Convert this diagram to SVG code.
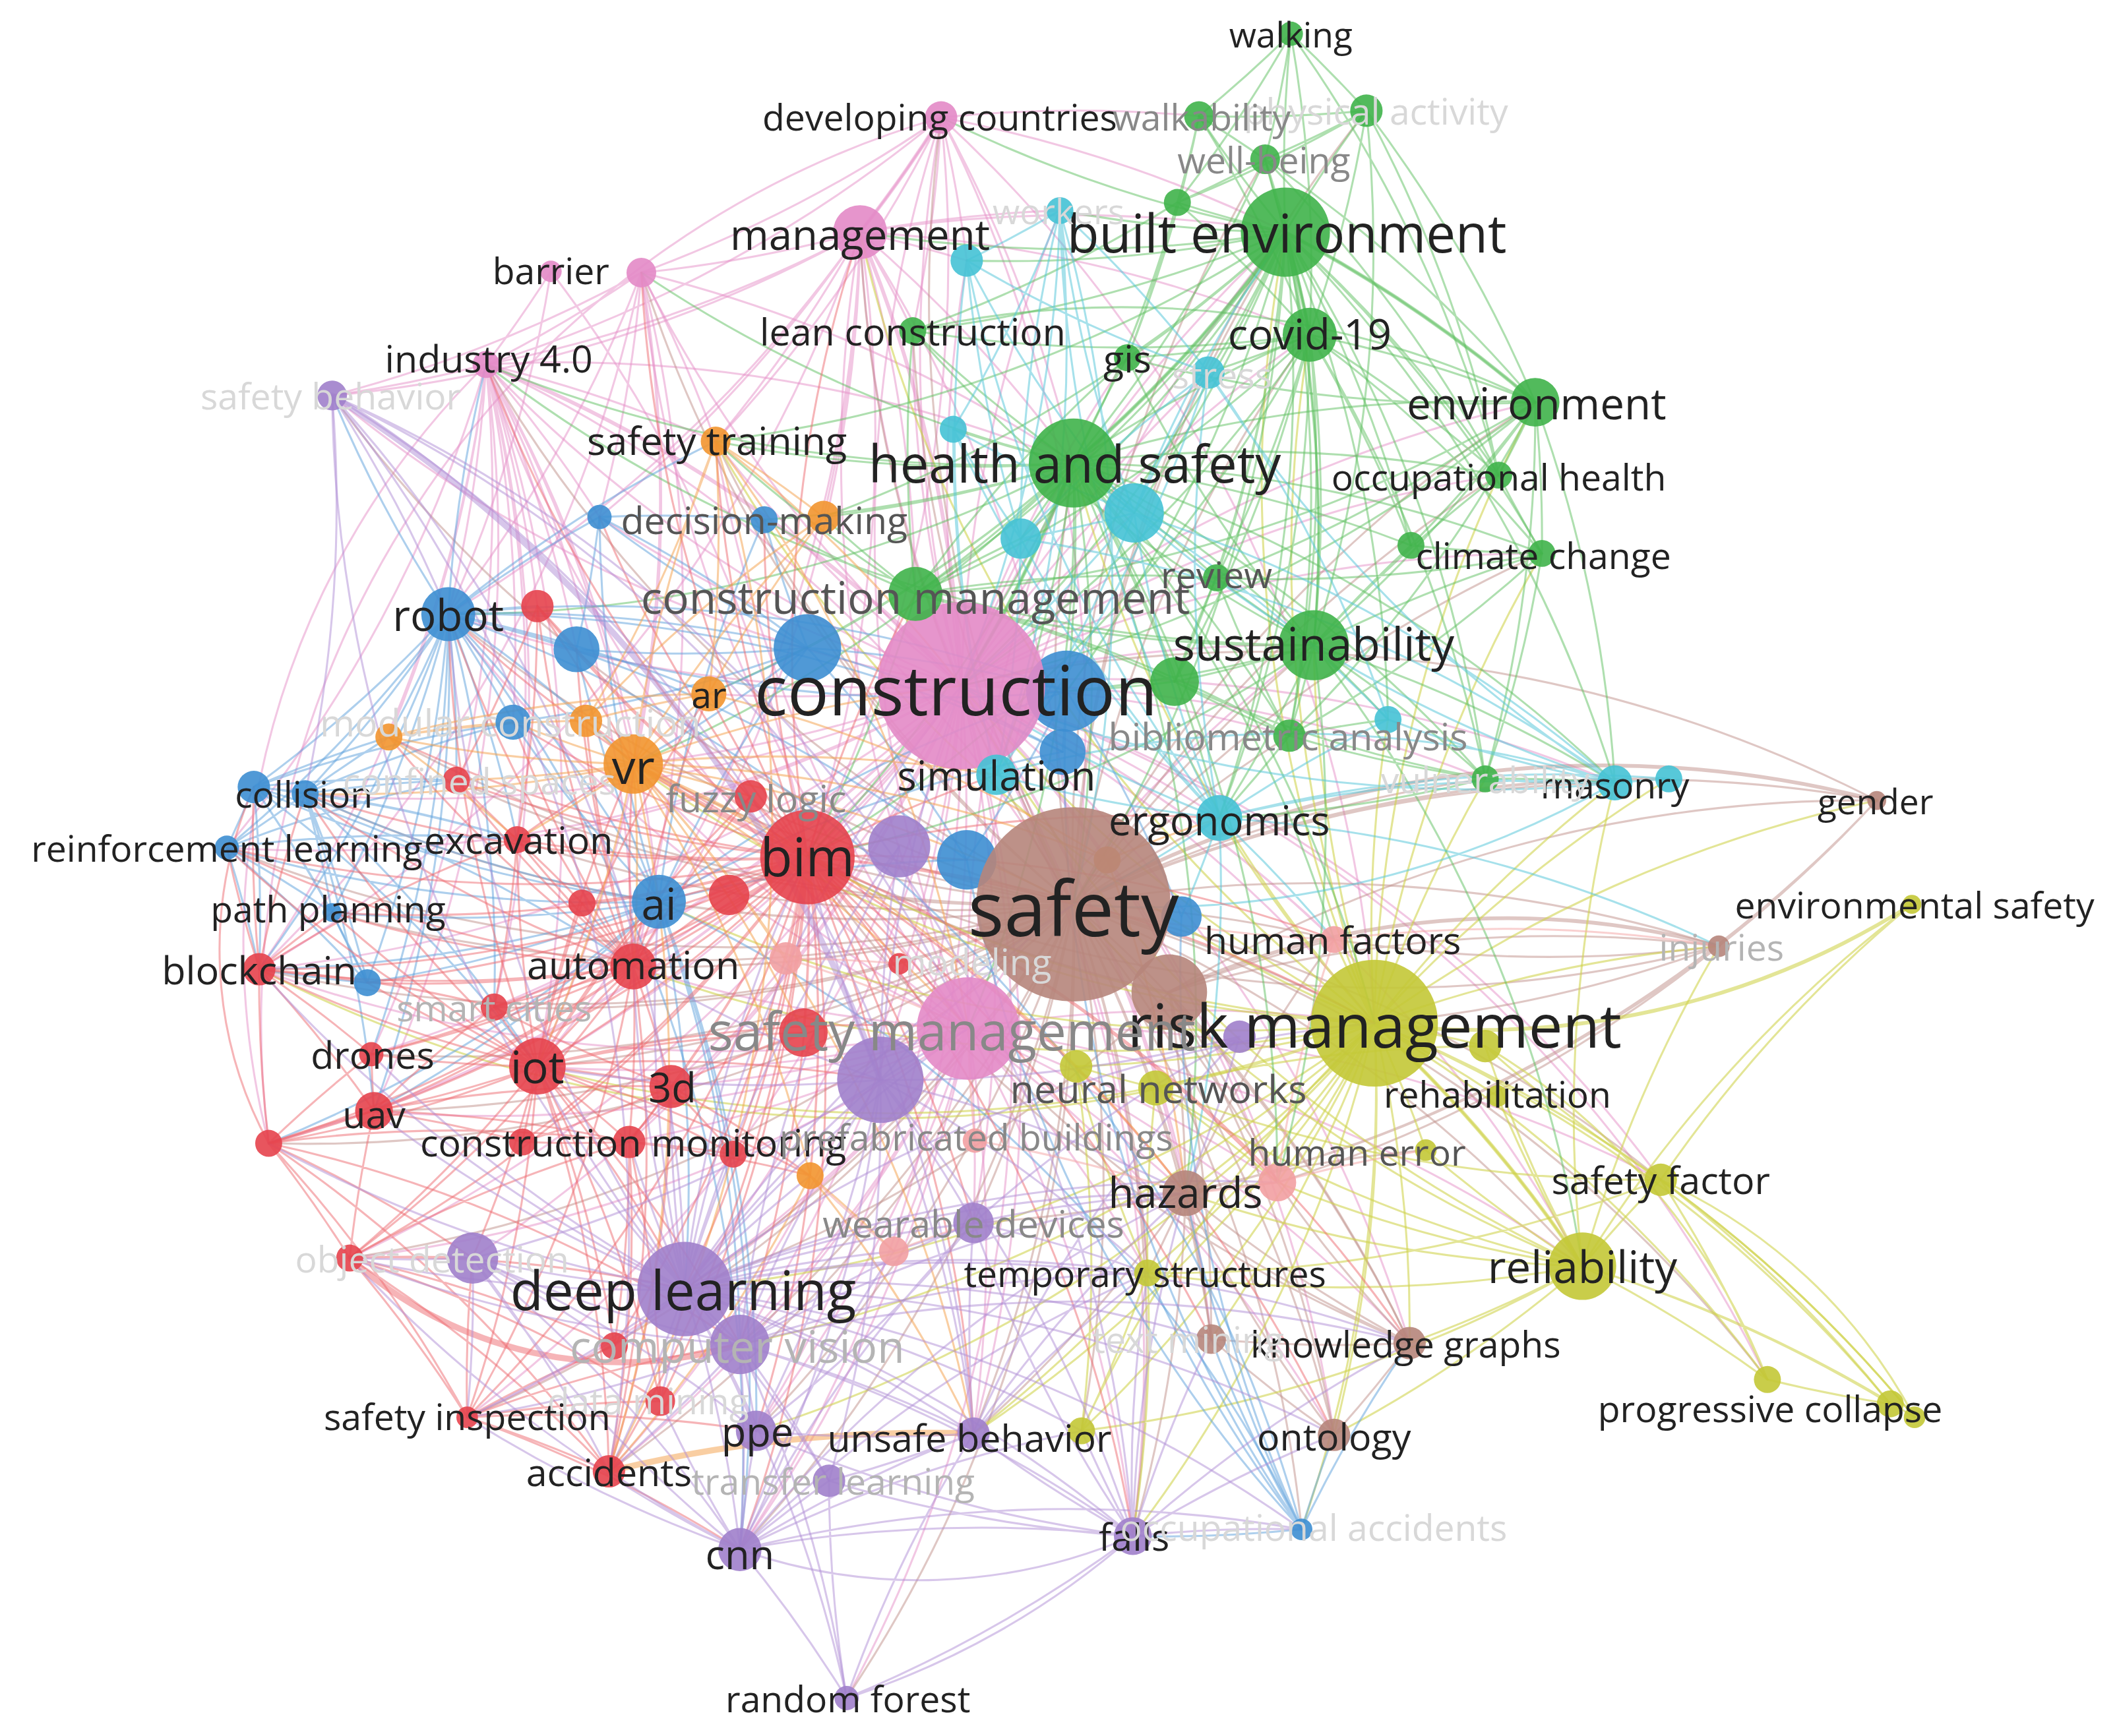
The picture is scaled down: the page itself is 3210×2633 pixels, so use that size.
<svg xmlns="http://www.w3.org/2000/svg" width="3210" height="2633" viewBox="0 0 3210 2633">
<style>
#connectors path{fill:none;stroke-width:1.5;stroke-linecap:round}
.ep{stroke:#e58fc8;stroke-opacity:.5}
.en{stroke:#c0908a;stroke-opacity:.5}
.ey{stroke:#cfd24a;stroke-opacity:.58}
.eg{stroke:#5dbf5f;stroke-opacity:.5}
.ec{stroke:#55c6d8;stroke-opacity:.52}
.eb{stroke:#5b9fdc;stroke-opacity:.5}
.er{stroke:#ee6a70;stroke-opacity:.5}
.eo{stroke:#f4a24c;stroke-opacity:.52}
.eu{stroke:#b08ed6;stroke-opacity:.5}
.ea{stroke:#f4a9a9;stroke-opacity:.55}
#connectors .k{stroke-width:4.5}
#connectors .m{stroke-width:2.8}
circle{fill-opacity:.9}
.pk{fill:#e389c6}.rd{fill:#e5434c}.gn{fill:#3fb24a}.bl{fill:#3d8ed2}.cy{fill:#45c2d5}
.or{fill:#f2952f}.pu{fill:#a07fcb}.ye{fill:#c3c836}.br{fill:#b6857b}.sa{fill:#f2a0a2}
text{font-family:"Open Sans","Noto Sans","DejaVu Sans",sans-serif;text-anchor:middle;dominant-baseline:central;fill:#222}
text.f1{fill:#555}text.f2{fill:#888}text.f3{fill:#b4b4b4}text.f4{fill:#d8d8d8}
</style>
<rect width="3210" height="2633" fill="#fff"/>
<g transform="scale(2.0473)">
<g id="connectors">
<path class="ep" d="M712 508A999 999 0 0 1 637 172M712 508A999 999 0 0 1 697 87M712 508A999 999 0 0 1 475 202M712 508A999 999 0 0 1 360 270M712 508A999 999 0 0 1 246 293M712 508A999 999 0 0 1 530 327M712 508A999 999 0 0 1 676 245M712 508A999 999 0 0 1 952 172M712 508A999 999 0 0 1 795 343M712 508A999 999 0 0 1 598 635M712 508A999 999 0 0 1 507 955M712 508A999 999 0 0 1 1018 758M712 508A999 999 0 0 1 795 670M712 508A999 999 0 0 1 973 478M712 508A999 999 0 0 1 1172 938M712 508A999 999 0 0 1 548 996M712 508A999 999 0 0 1 398 790M712 508A999 999 0 0 1 469 716M712 508A999 999 0 0 1 332 455M712 508A999 999 0 0 1 469 566M712 508A999 999 0 0 1 525 514M712 508A999 999 0 0 1 488 668M712 508A999 999 0 0 1 192 718M712 508A999 999 0 0 1 275 781M712 508A999 999 0 0 1 277 823M712 508A999 999 0 0 1 466 846M712 508A999 999 0 0 1 878 884M712 508A999 999 0 0 1 839 1138M712 508A999 999 0 0 1 548 1148M712 508A999 999 0 0 1 560 1060M712 508A999 999 0 0 1 451 1090M712 508A999 999 0 0 1 346 1050M712 508A999 999 0 0 1 1044 995M712 508A999 999 0 0 1 988 1063M712 508A999 999 0 0 1 850 943M712 508A999 999 0 0 1 1230 874M712 508A999 999 0 0 1 903 606M712 508A999 999 0 0 1 1196 580M712 508A999 999 0 0 1 1100 577M712 508A999 999 0 0 1 955 545M712 508A999 999 0 0 1 970 248M712 508A999 999 0 0 1 1137 298M712 508A999 999 0 0 1 1110 352M712 508A999 999 0 0 1 1142 410M712 508A999 999 0 0 1 901 428M712 508A999 999 0 0 1 835 265M712 508A999 999 0 0 1 895 276M712 508A999 999 0 0 1 785 156M712 508A999 999 0 0 1 716 193M712 508A999 999 0 0 1 444 383M712 508A999 999 0 0 1 226 588M712 508A999 999 0 0 1 168 628M712 508A999 999 0 0 1 383 622M712 508A999 999 0 0 1 259 932M712 508A999 999 0 0 1 199 847M712 508A999 999 0 0 1 897 992M712 508A999 999 0 0 1 721 906M712 508A999 999 0 0 1 721 1062M712 508A999 999 0 0 1 497 805M712 508A999 999 0 0 1 366 746M712 508A999 999 0 0 1 946 876M712 508A999 999 0 0 1 988 696M712 508A999 999 0 0 1 1309 1022M712 508A999 999 0 0 1 840 380M712 508A999 999 0 0 1 350 932M712 508A999 999 0 0 1 627 1258"/>
<path class="ep" d="M717 762A999 999 0 0 1 398 790M717 762A999 999 0 0 1 469 716M717 762A999 999 0 0 1 192 718M717 762A999 999 0 0 1 530 327M717 762A999 999 0 0 1 360 270M717 762A999 999 0 0 1 475 202M717 762A999 999 0 0 1 637 172M717 762A999 999 0 0 1 697 87M717 762A999 999 0 0 1 795 343M717 762A999 999 0 0 1 1018 758M717 762A999 999 0 0 1 878 884M717 762A999 999 0 0 1 946 876M717 762A999 999 0 0 1 1044 995M717 762A999 999 0 0 1 988 1063M717 762A999 999 0 0 1 839 1138M717 762A999 999 0 0 1 548 1148M717 762A999 999 0 0 1 560 1060M717 762A999 999 0 0 1 721 1062M717 762A999 999 0 0 1 850 943M717 762A999 999 0 0 1 721 906M717 762A999 999 0 0 1 662 927M717 762A999 999 0 0 1 451 1090M717 762A999 999 0 0 1 346 1050M717 762A999 999 0 0 1 497 805M717 762A999 999 0 0 1 466 846M717 762A999 999 0 0 1 277 823M717 762A999 999 0 0 1 1172 938M717 762A999 999 0 0 1 1230 874M717 762A999 999 0 0 1 973 478M717 762A999 999 0 0 1 952 172M717 762A999 999 0 0 1 332 455M717 762A999 999 0 0 1 469 566M717 762A999 999 0 0 1 507 955M717 762A999 999 0 0 1 548 996M717 762A999 999 0 0 1 259 932"/>
<path class="ep" d="M637 172A999 999 0 0 1 475 202M637 172A999 999 0 0 1 360 270M637 172A999 999 0 0 1 246 293M637 172A999 999 0 0 1 530 327M637 172A999 999 0 0 1 676 245M637 172A999 999 0 0 1 716 193M637 172A999 999 0 0 1 785 156M637 172A999 999 0 0 1 444 383M637 172A999 999 0 0 1 610 383M637 172A999 999 0 0 1 678 440M637 172A999 999 0 0 1 332 455M637 172A999 999 0 0 1 192 718M637 172A999 999 0 0 1 970 248M637 172A999 999 0 0 1 952 172M637 172A999 999 0 0 1 795 343M637 172A999 999 0 0 1 795 670M637 172A999 999 0 0 1 598 635M637 172A999 999 0 0 1 469 716M637 172A999 999 0 0 1 398 790"/>
<path class="ep" d="M697 87A999 999 0 0 1 637 172M697 87A999 999 0 0 1 475 202M697 87A999 999 0 0 1 360 270M697 87A999 999 0 0 1 888 86M697 87A999 999 0 0 1 716 193M697 87A999 999 0 0 1 795 343M697 87A999 999 0 0 1 952 172M697 87A999 999 0 0 1 676 245M697 87A999 999 0 0 1 530 327M697 87A999 999 0 0 1 795 670M697 87A999 999 0 0 1 598 635M697 87A999 999 0 0 1 1018 758M697 87A700 700 0 0 0 199 847M475 202A999 999 0 0 1 360 270M475 202A999 999 0 0 1 530 327M475 202A999 999 0 0 1 444 383M475 202A999 999 0 0 1 332 455M475 202A999 999 0 0 1 192 718M475 202A999 999 0 0 1 398 790M475 202A999 999 0 0 1 469 716M475 202A999 999 0 0 1 469 566M475 202A999 999 0 0 1 246 293M475 202A999 999 0 0 1 795 343M408 201A999 999 0 0 1 360 270M408 201A999 999 0 0 1 332 455M408 201A999 999 0 0 1 598 635"/>
<path class="ep" d="M360 270A999 999 0 0 1 246 293M360 270A999 999 0 0 1 530 327M360 270A999 999 0 0 1 444 383M360 270A999 999 0 0 1 332 455M360 270A999 999 0 0 1 427 481M360 270A999 999 0 0 1 398 449M360 270A999 999 0 0 1 192 718M360 270A999 999 0 0 1 398 790M360 270A999 999 0 0 1 469 716M360 270A999 999 0 0 1 469 566M360 270A999 999 0 0 1 288 546M360 270A999 999 0 0 1 380 535M360 270A999 999 0 0 1 383 622M360 270A999 999 0 0 1 168 628M360 270A999 999 0 0 1 275 781M360 270A999 999 0 0 1 277 823M360 270A999 999 0 0 1 366 746M360 270A999 999 0 0 1 488 668M360 270A999 999 0 0 1 795 343M360 270A999 999 0 0 1 795 670M360 270A600 600 0 0 0 199 847"/>
<path class="ep m" d="M360 270A999 999 0 0 1 712 508M697 87A999 999 0 0 1 637 172M637 172A999 999 0 0 1 712 508"/>
<path class="en" d="M795 670A999 999 0 0 1 637 172M795 670A999 999 0 0 1 697 87M795 670A999 999 0 0 1 795 343M795 670A999 999 0 0 1 952 172M795 670A999 999 0 0 1 970 248M795 670A999 999 0 0 1 1137 298M795 670A999 999 0 0 1 973 478M795 670A999 999 0 0 1 598 635M795 670A999 999 0 0 1 507 955M795 670A999 999 0 0 1 1018 758M795 670A999 999 0 0 1 1172 938M795 670A999 999 0 0 1 1230 874M795 670A999 999 0 0 1 1390 593M795 670A999 999 0 0 1 1273 701M795 670A999 999 0 0 1 988 696M795 670A999 999 0 0 1 946 876M795 670A999 999 0 0 1 878 884M795 670A999 999 0 0 1 1044 995M795 670A999 999 0 0 1 988 1063M795 670A999 999 0 0 1 897 992M795 670A999 999 0 0 1 839 1138M795 670A999 999 0 0 1 548 1148M795 670A999 999 0 0 1 560 1060M795 670A999 999 0 0 1 721 1062M795 670A999 999 0 0 1 451 1090M795 670A999 999 0 0 1 398 790M795 670A999 999 0 0 1 469 716M795 670A999 999 0 0 1 332 455M795 670A999 999 0 0 1 469 566M795 670A999 999 0 0 1 488 668M795 670A999 999 0 0 1 192 718M795 670A999 999 0 0 1 277 823M795 670A999 999 0 0 1 275 781M795 670A999 999 0 0 1 226 588M795 670A999 999 0 0 1 168 628M795 670A999 999 0 0 1 246 676M795 670A999 999 0 0 1 1196 580M795 670A999 999 0 0 1 903 606M795 670A999 999 0 0 1 1100 577M795 670A999 999 0 0 1 955 545M795 670A999 999 0 0 1 1110 352M795 670A999 999 0 0 1 1142 410M795 670A999 999 0 0 1 530 327M795 670A999 999 0 0 1 246 293M795 670A999 999 0 0 1 360 270M795 670A999 999 0 0 1 475 202M795 670A999 999 0 0 1 676 245M795 670A999 999 0 0 1 721 906M795 670A999 999 0 0 1 548 996M795 670A999 999 0 0 1 1309 1022M795 670A999 999 0 0 1 964 1133M795 670A999 999 0 0 1 627 1258M795 670A999 999 0 0 1 346 1050M795 670A999 999 0 0 1 259 932M795 670A999 999 0 0 1 199 847M795 670A999 999 0 0 1 850 943M795 670A999 999 0 0 1 801 1060M795 670A999 999 0 0 1 366 746M795 670A999 999 0 0 1 383 622M795 670A999 999 0 0 1 338 578M795 670A999 999 0 0 1 288 546M795 670A999 999 0 0 1 1012 82M795 670A999 999 0 0 1 937 118M795 670A999 999 0 0 1 1236 577"/>
<path class="en" d="M866 735A999 999 0 0 1 1273 701M866 735A999 999 0 0 1 1390 593M866 735A999 999 0 0 1 878 884M866 735A999 999 0 0 1 1044 995M866 735A999 999 0 0 1 946 876M866 735A999 999 0 0 1 988 696M866 735A999 999 0 0 1 988 1063M866 735A999 999 0 0 1 897 992M866 735A999 999 0 0 1 507 955M866 735A999 999 0 0 1 598 635M1390 593A999 999 0 0 0 712 508M1390 593A999 999 0 0 1 878 884M1390 593A999 999 0 0 1 1273 701M1273 701A999 999 0 0 1 1018 758M1273 701A999 999 0 0 1 988 696M1273 701A999 999 0 0 1 878 884M1273 701A999 999 0 0 1 946 876M1273 701A999 999 0 0 1 598 635M1044 995A999 999 0 0 1 988 1063M1044 995A999 999 0 0 1 897 992M1044 995A999 999 0 0 1 878 884M1044 995A999 999 0 0 1 946 876M1044 995A999 999 0 0 1 717 762M1044 995A999 999 0 0 1 598 635M988 1063A999 999 0 0 1 897 992M988 1063A999 999 0 0 1 878 884M878 884A999 999 0 0 1 946 876M878 884A999 999 0 0 1 850 943M878 884A999 999 0 0 1 897 992M878 884A999 999 0 0 1 1056 852M878 884A999 999 0 0 1 988 696M878 884A999 999 0 0 1 721 1062M878 884A999 999 0 0 1 839 1138M878 884A999 999 0 0 1 721 906"/>
<path class="en m" d="M1273 701A600 600 0 0 0 866 735M1390 593A800 800 0 0 0 795 670"/>
<path class="ey" d="M1018 758A999 999 0 0 1 1172 938M1018 758A999 999 0 0 1 1230 874M1018 758A999 999 0 0 1 1309 1022M1018 758A999 999 0 0 1 1400 1040M1018 758A999 999 0 0 1 1418 1050M1018 758A999 999 0 0 1 850 943M1018 758A999 999 0 0 1 801 1060M1018 758A999 999 0 0 1 856 806M1018 758A999 999 0 0 1 1100 775M1018 758A999 999 0 0 1 797 790M1018 758A999 999 0 0 1 946 876M1018 758A999 999 0 0 1 878 884M1018 758A999 999 0 0 1 1044 995M1018 758A999 999 0 0 1 988 1063M1018 758A999 999 0 0 1 1196 580M1018 758A999 999 0 0 1 1273 701M1018 758A999 999 0 0 1 1390 593M1018 758A999 999 0 0 1 973 478M1018 758A999 999 0 0 1 1137 298M1018 758A999 999 0 0 1 1142 410M1018 758A999 999 0 0 1 1110 352M1018 758A999 999 0 0 1 970 248M1018 758A999 999 0 0 1 952 172M1018 758A999 999 0 0 1 795 343M1018 758A999 999 0 0 1 598 635M1018 758A999 999 0 0 1 712 508M1018 758A999 999 0 0 1 507 955M1018 758A999 999 0 0 1 398 790M1018 758A999 999 0 0 1 839 1138M1018 758A999 999 0 0 1 721 1062M1018 758A999 999 0 0 1 897 992M1018 758A999 999 0 0 1 988 696M1018 758A999 999 0 0 1 903 606M1018 758A999 999 0 0 1 1100 577M1018 758A999 999 0 0 1 964 1133M1018 758A999 999 0 0 1 637 172M1018 758A999 999 0 0 1 469 716M1018 758A999 999 0 0 1 548 996M1018 758A999 999 0 0 1 560 1060M1018 758A999 999 0 0 1 192 718M1018 758A999 999 0 0 1 488 668M1018 758A999 999 0 0 1 469 566M1018 758A999 999 0 0 1 530 327M1018 758A999 999 0 0 1 1056 852M1018 758A999 999 0 0 1 1236 577M1018 758A999 999 0 0 1 1028 533M1018 758A999 999 0 0 1 1109 812"/>
<path class="ey" d="M1172 938A999 999 0 0 1 1230 874M1172 938A999 999 0 0 1 1309 1022M1172 938A999 999 0 0 1 1400 1040M1172 938A999 999 0 0 1 1418 1050M1172 938A999 999 0 0 1 1416 670M1172 938A999 999 0 0 1 1100 775M1172 938A999 999 0 0 1 1056 852M1172 938A999 999 0 0 1 946 876M1172 938A999 999 0 0 1 1044 995M1172 938A999 999 0 0 1 850 943M1172 938A999 999 0 0 1 856 806M1172 938A999 999 0 0 1 801 1060M1172 938A999 999 0 0 1 1196 580M1172 938A999 999 0 0 1 1273 701M1172 938A999 999 0 0 1 878 884M1172 938A999 999 0 0 1 988 1063M1172 938A999 999 0 0 1 795 670M1172 938A999 999 0 0 1 712 508M1172 938A999 999 0 0 1 1109 812M1230 874A999 999 0 0 1 1309 1022M1230 874A999 999 0 0 1 1400 1040M1230 874A999 999 0 0 1 1418 1050M1230 874A999 999 0 0 1 1416 670M1230 874A999 999 0 0 1 1100 775M1230 874A999 999 0 0 1 850 943M1230 874A999 999 0 0 1 856 806M1400 1040A999 999 0 0 1 1309 1022M1418 1050A400 400 0 0 0 1230 874M1309 1022A500 500 0 0 0 1100 775M850 943A999 999 0 0 1 801 1060M850 943A999 999 0 0 1 856 806M850 943A999 999 0 0 1 797 790M850 943A999 999 0 0 1 721 1062M850 943A999 999 0 0 1 839 1138M856 806A999 999 0 0 1 797 790M856 806A999 999 0 0 1 1100 775M856 806A999 999 0 0 1 946 876M797 790A999 999 0 0 1 801 1060M801 1060A999 999 0 0 1 1018 758"/>
<path class="ey m" d="M1018 758A600 600 0 0 0 1416 670M1018 758A999 999 0 0 1 1172 938"/>
<path class="eg" d="M952 172A999 999 0 0 1 956 25M952 172A999 999 0 0 1 888 86M952 172A999 999 0 0 1 1012 82M952 172A999 999 0 0 1 937 118M952 172A999 999 0 0 1 872 150M952 172A999 999 0 0 1 970 248M952 172A999 999 0 0 1 1137 298M952 172A999 999 0 0 1 1110 352M952 172A999 999 0 0 1 1142 410M952 172A999 999 0 0 1 1045 404M952 172A999 999 0 0 1 901 428M952 172A999 999 0 0 1 973 478M952 172A999 999 0 0 1 795 343M952 172A999 999 0 0 1 835 265M952 172A999 999 0 0 1 676 245M952 172A999 999 0 0 1 895 276M952 172A999 999 0 0 1 785 156M952 172A999 999 0 0 1 716 193M952 172A999 999 0 0 1 637 172M952 172A999 999 0 0 1 697 87M952 172A999 999 0 0 1 955 545M952 172A999 999 0 0 1 870 505M952 172A999 999 0 0 1 1100 577M952 172A999 999 0 0 1 678 440M952 172A999 999 0 0 1 840 380M952 172A999 999 0 0 1 756 399M952 172A999 999 0 0 1 1196 580M952 172A999 999 0 0 1 1028 533M952 172A999 999 0 0 1 903 606M952 172A999 999 0 0 1 712 508M952 172A999 999 0 0 1 795 670M952 172A999 999 0 0 1 790 512M952 172A999 999 0 0 1 530 327M952 172A999 999 0 0 1 610 383"/>
<path class="eg" d="M956 25A999 999 0 0 1 937 118M956 25A999 999 0 0 1 872 150M956 25A999 999 0 0 1 970 248M956 25A999 999 0 0 1 1110 352M956 25A999 999 0 0 1 1012 82M956 25A999 999 0 0 1 888 86M1012 82A999 999 0 0 1 937 118M1012 82A999 999 0 0 1 888 86M1012 82A999 999 0 0 1 1137 298M1012 82A999 999 0 0 1 970 248M1012 82A999 999 0 0 1 973 478M1012 82A999 999 0 0 1 1110 352M1012 82A999 999 0 0 1 872 150M888 86A999 999 0 0 1 937 118M888 86A999 999 0 0 1 872 150M888 86A999 999 0 0 1 795 343M888 86A999 999 0 0 1 970 248M888 86A999 999 0 0 1 835 265M937 118A999 999 0 0 1 970 248M937 118A999 999 0 0 1 1137 298M937 118A999 999 0 0 1 872 150M937 118A999 999 0 0 1 795 343M937 118A999 999 0 0 1 973 478M937 118A999 999 0 0 1 1110 352M872 150A999 999 0 0 1 795 343M872 150A999 999 0 0 1 970 248M872 150A999 999 0 0 1 835 265M872 150A999 999 0 0 1 676 245"/>
<path class="eg" d="M795 343A999 999 0 0 1 970 248M795 343A999 999 0 0 1 1137 298M795 343A999 999 0 0 1 1110 352M795 343A999 999 0 0 1 1142 410M795 343A999 999 0 0 1 973 478M795 343A999 999 0 0 1 901 428M795 343A999 999 0 0 1 678 440M795 343A999 999 0 0 1 835 265M795 343A999 999 0 0 1 676 245M795 343A999 999 0 0 1 530 327M795 343A999 999 0 0 1 566 385M795 343A999 999 0 0 1 610 383M795 343A999 999 0 0 1 756 399M795 343A999 999 0 0 1 840 380M795 343A999 999 0 0 1 706 318M795 343A999 999 0 0 1 598 635M795 343A999 999 0 0 1 903 606M795 343A999 999 0 0 1 1196 580M795 343A999 999 0 0 1 1100 577M795 343A999 999 0 0 1 955 545M795 343A999 999 0 0 1 870 505M795 343A999 999 0 0 1 360 270M795 343A999 999 0 0 1 475 202M795 343A999 999 0 0 1 1045 404M795 343A999 999 0 0 1 790 512M795 343A999 999 0 0 1 598 480M795 343A999 999 0 0 1 525 514M795 343A999 999 0 0 1 469 566M795 343A999 999 0 0 1 332 455M795 343A999 999 0 0 1 878 884M795 343A999 999 0 0 1 946 876M795 343A999 999 0 0 1 988 696M795 343A999 999 0 0 1 738 574M795 343A999 999 0 0 1 717 762M795 343A999 999 0 0 1 712 508M795 343A999 999 0 0 1 795 670M795 343A999 999 0 0 1 1018 758"/>
<path class="eg" d="M970 248A999 999 0 0 1 1137 298M970 248A999 999 0 0 1 1110 352M970 248A999 999 0 0 1 1142 410M970 248A999 999 0 0 1 973 478M970 248A999 999 0 0 1 901 428M970 248A999 999 0 0 1 1045 404M970 248A999 999 0 0 1 955 545M970 248A999 999 0 0 1 870 505M970 248A999 999 0 0 1 835 265M970 248A999 999 0 0 1 895 276M970 248A999 999 0 0 1 1100 577M970 248A999 999 0 0 1 903 606M970 248A999 999 0 0 1 712 508M970 248A999 999 0 0 1 598 635M970 248A999 999 0 0 1 676 245M970 248A999 999 0 0 1 678 440M1137 298A999 999 0 0 1 1110 352M1137 298A999 999 0 0 1 1142 410M1137 298A999 999 0 0 1 1045 404M1137 298A999 999 0 0 1 973 478M1137 298A999 999 0 0 1 1100 577M1137 298A999 999 0 0 1 955 545M1137 298A999 999 0 0 1 901 428M1137 298A999 999 0 0 1 1196 580M1137 298A999 999 0 0 1 835 265M1137 298A999 999 0 0 1 678 440M1137 298A999 999 0 0 1 712 508M1137 298A700 700 0 0 0 676 245"/>
<path class="eg" d="M973 478A999 999 0 0 1 955 545M973 478A999 999 0 0 1 1100 577M973 478A999 999 0 0 1 1028 533M973 478A999 999 0 0 1 870 505M973 478A999 999 0 0 1 901 428M973 478A999 999 0 0 1 1110 352M973 478A999 999 0 0 1 1142 410M973 478A999 999 0 0 1 1045 404M973 478A999 999 0 0 1 1196 580M973 478A999 999 0 0 1 903 606M973 478A999 999 0 0 1 790 512M973 478A999 999 0 0 1 678 440M973 478A999 999 0 0 1 676 245M973 478A999 999 0 0 1 835 265M973 478A999 999 0 0 1 360 270M973 478A999 999 0 0 1 598 635M973 478A999 999 0 0 1 1172 938M973 478A999 999 0 0 1 946 876M1142 410A999 999 0 0 1 1110 352M1142 410A999 999 0 0 1 1045 404M1142 410A999 999 0 0 1 1100 577M1142 410A999 999 0 0 1 955 545M1142 410A999 999 0 0 1 901 428M1100 577A999 999 0 0 1 955 545M1100 577A999 999 0 0 1 1196 580M1100 577A999 999 0 0 1 870 505M1100 577A999 999 0 0 1 903 606M678 440A999 999 0 0 1 676 245M678 440A999 999 0 0 1 835 265M678 440A999 999 0 0 1 901 428M678 440A999 999 0 0 1 955 545M678 440A999 999 0 0 1 870 505M678 440A999 999 0 0 1 598 635M678 440A999 999 0 0 1 530 327M678 440A999 999 0 0 1 566 385M678 440A999 999 0 0 1 610 383M678 440A999 999 0 0 1 756 399M955 545A999 999 0 0 1 870 505M955 545A999 999 0 0 1 901 428M955 545A999 999 0 0 1 903 606M955 545A999 999 0 0 1 1028 533M870 505A999 999 0 0 1 901 428M870 505A999 999 0 0 1 790 512"/>
<path class="eg m" d="M952 172A999 999 0 0 1 795 343M952 172A999 999 0 0 1 970 248M952 172A999 999 0 0 1 1137 298M795 343A999 999 0 0 1 712 508"/>
<path class="ec" d="M903 606A999 999 0 0 1 1196 580M903 606A999 999 0 0 1 1236 577M903 606A999 999 0 0 1 1028 533M903 606A999 999 0 0 1 756 399M903 606A999 999 0 0 1 840 380M903 606A999 999 0 0 1 738 574M903 606A999 999 0 0 1 895 276M903 606A999 999 0 0 1 785 156M903 606A999 999 0 0 1 716 193M903 606A999 999 0 0 1 706 318M903 606A999 999 0 0 1 988 696M903 606A999 999 0 0 1 875 679M903 606A999 999 0 0 1 1273 701M903 606A999 999 0 0 1 878 884M903 606A999 999 0 0 1 795 670M903 606A999 999 0 0 1 712 508M840 380A999 999 0 0 1 756 399M840 380A999 999 0 0 1 895 276M840 380A999 999 0 0 1 785 156M840 380A999 999 0 0 1 716 193M840 380A999 999 0 0 1 706 318M840 380A999 999 0 0 1 738 574M840 380A999 999 0 0 1 1196 580M840 380A999 999 0 0 1 1028 533M840 380A999 999 0 0 1 795 343M840 380A999 999 0 0 1 712 508M840 380A999 999 0 0 1 952 172M756 399A999 999 0 0 1 895 276M756 399A999 999 0 0 1 785 156M756 399A999 999 0 0 1 716 193M756 399A999 999 0 0 1 706 318M756 399A999 999 0 0 1 738 574M756 399A999 999 0 0 1 1196 580M785 156A999 999 0 0 1 716 193M785 156A999 999 0 0 1 895 276M785 156A999 999 0 0 1 706 318M785 156A999 999 0 0 1 738 574M785 156A999 999 0 0 1 712 508M785 156A999 999 0 0 1 795 670M1196 580A999 999 0 0 1 1236 577M1196 580A999 999 0 0 1 1028 533M1196 580A999 999 0 0 1 1100 577M1196 580A800 800 0 0 0 738 574M1196 580A999 999 0 0 1 840 380M1196 580A999 999 0 0 1 712 508M1196 580A700 700 0 0 1 795 670M1196 580A999 999 0 0 1 895 276M895 276A999 999 0 0 1 716 193M895 276A999 999 0 0 1 1028 533M895 276A999 999 0 0 1 738 574M738 574A999 999 0 0 1 716 193M738 574A999 999 0 0 1 706 318"/>
<path class="eb" d="M332 455A999 999 0 0 1 226 588M332 455A999 999 0 0 1 188 583M332 455A999 999 0 0 1 168 628M332 455A999 999 0 0 1 246 676M332 455A999 999 0 0 1 272 728M332 455A999 999 0 0 1 380 535M332 455A999 999 0 0 1 427 481M332 455A999 999 0 0 1 398 449M332 455A999 999 0 0 1 383 622M332 455A999 999 0 0 1 488 668M332 455A999 999 0 0 1 192 718M332 455A999 999 0 0 1 444 383M332 455A999 999 0 0 1 246 293M332 455A999 999 0 0 1 360 270M332 455A999 999 0 0 1 288 546M332 455A999 999 0 0 1 434 534M332 455A999 999 0 0 1 469 566M332 455A999 999 0 0 1 525 514M332 455A999 999 0 0 1 598 480M332 455A999 999 0 0 1 790 512M332 455A999 999 0 0 1 716 637M332 455A999 999 0 0 1 787 557M332 455A999 999 0 0 1 338 578M332 455A999 999 0 0 1 366 746M332 455A999 999 0 0 1 277 823M332 455A999 999 0 0 1 275 781M332 455A999 999 0 0 1 548 1148M332 455A999 999 0 0 1 964 1133M332 455A999 999 0 0 1 530 327"/>
<path class="eb" d="M488 668A999 999 0 0 1 272 728M488 668A999 999 0 0 1 246 676M488 668A999 999 0 0 1 226 588M488 668A999 999 0 0 1 188 583M488 668A999 999 0 0 1 168 628M488 668A999 999 0 0 1 380 535M488 668A999 999 0 0 1 427 481M488 668A999 999 0 0 1 598 480M488 668A999 999 0 0 1 790 512M488 668A999 999 0 0 1 787 557M488 668A999 999 0 0 1 716 637M488 668A999 999 0 0 1 444 383M488 668A999 999 0 0 1 566 385M488 668A999 999 0 0 1 964 1133M488 668A999 999 0 0 1 192 718M488 668A999 999 0 0 1 199 847M488 668A999 999 0 0 1 277 823M488 668A999 999 0 0 1 548 1148M488 668A999 999 0 0 1 548 996M488 668A999 999 0 0 1 560 1060M488 668A999 999 0 0 1 507 955M188 583A999 999 0 0 1 226 588M188 583A999 999 0 0 1 168 628M188 583A999 999 0 0 1 246 676M188 583A999 999 0 0 1 272 728M188 583A999 999 0 0 1 380 535M188 583A999 999 0 0 1 288 546M188 583A999 999 0 0 1 383 622M188 583A999 999 0 0 1 338 578M188 583A999 999 0 0 1 192 718M188 583A999 999 0 0 1 398 790M188 583A999 999 0 0 1 469 716M226 588A999 999 0 0 1 168 628M226 588A999 999 0 0 1 246 676M226 588A999 999 0 0 1 272 728M226 588A999 999 0 0 1 383 622M226 588A999 999 0 0 1 338 578M226 588A999 999 0 0 1 288 546M226 588A999 999 0 0 1 380 535M226 588A999 999 0 0 1 398 790M226 588A999 999 0 0 1 277 823M168 628A999 999 0 0 1 246 676M168 628A999 999 0 0 1 272 728M168 628A999 999 0 0 1 192 718M168 628A999 999 0 0 1 383 622M168 628A999 999 0 0 1 338 578"/>
<path class="eb" d="M598 480A999 999 0 0 1 790 512M598 480A999 999 0 0 1 787 557M598 480A999 999 0 0 1 716 637M598 480A999 999 0 0 1 427 481M598 480A999 999 0 0 1 380 535M598 480A999 999 0 0 1 444 383M598 480A999 999 0 0 1 566 385M598 480A999 999 0 0 1 525 514M598 480A999 999 0 0 1 469 566M790 512A999 999 0 0 1 787 557M790 512A999 999 0 0 1 716 637M790 512A999 999 0 0 1 875 679M790 512A999 999 0 0 1 427 481M964 1133A999 999 0 0 1 988 1063M964 1133A999 999 0 0 1 1044 995M964 1133A999 999 0 0 1 897 992M964 1133A999 999 0 0 1 878 884M964 1133A999 999 0 0 1 850 943M964 1133A999 999 0 0 1 875 679M964 1133A999 999 0 0 1 716 637M964 1133A999 999 0 0 1 839 1138M964 1133A999 999 0 0 1 790 512M272 728A999 999 0 0 1 246 676M272 728A999 999 0 0 1 192 718M444 383A999 999 0 0 1 566 385M444 383A999 999 0 0 1 427 481M444 383A999 999 0 0 1 598 480"/>
<path class="er" d="M598 635A999 999 0 0 1 398 790M598 635A999 999 0 0 1 469 716M598 635A999 999 0 0 1 488 668M598 635A999 999 0 0 1 469 566M598 635A999 999 0 0 1 525 514M598 635A999 999 0 0 1 332 455M598 635A999 999 0 0 1 192 718M598 635A999 999 0 0 1 275 781M598 635A999 999 0 0 1 277 823M598 635A999 999 0 0 1 466 846M598 635A999 999 0 0 1 497 805M598 635A999 999 0 0 1 595 765M598 635A999 999 0 0 1 366 746M598 635A999 999 0 0 1 383 622M598 635A999 999 0 0 1 338 578M598 635A999 999 0 0 1 556 590M598 635A999 999 0 0 1 431 669M598 635A999 999 0 0 1 540 663M598 635A999 999 0 0 1 582 710M598 635A999 999 0 0 1 666 714M598 635A999 999 0 0 1 543 855M598 635A999 999 0 0 1 600 871M598 635A999 999 0 0 1 507 955M598 635A999 999 0 0 1 548 996M598 635A999 999 0 0 1 717 762M598 635A999 999 0 0 1 259 932M598 635A999 999 0 0 1 346 1050M598 635A999 999 0 0 1 451 1090M598 635A999 999 0 0 1 489 1038M598 635A999 999 0 0 1 455 997M598 635A999 999 0 0 1 387 846M598 635A999 999 0 0 1 199 847M598 635A999 999 0 0 1 272 728M598 635A999 999 0 0 1 246 676M598 635A999 999 0 0 1 226 588M598 635A999 999 0 0 1 168 628M598 635A999 999 0 0 1 288 546M598 635A999 999 0 0 1 434 534M598 635A999 999 0 0 1 380 535M598 635A999 999 0 0 1 398 449M598 635A999 999 0 0 1 427 481M598 635A999 999 0 0 1 530 327M598 635A999 999 0 0 1 360 270M598 635A999 999 0 0 1 475 202M598 635A999 999 0 0 1 637 172M598 635A999 999 0 0 1 678 440M598 635A999 999 0 0 1 652 800M598 635A999 999 0 0 1 444 383M598 635A999 999 0 0 1 566 385M598 635A999 999 0 0 1 738 574M598 635A999 999 0 0 1 903 606M598 635A999 999 0 0 1 878 884M598 635A999 999 0 0 1 1044 995M598 635A999 999 0 0 1 988 1063M598 635A999 999 0 0 1 897 992M598 635A999 999 0 0 1 721 906M598 635A999 999 0 0 1 721 1062M598 635A999 999 0 0 1 839 1138M598 635A999 999 0 0 1 548 1148M598 635A999 999 0 0 1 560 1060M598 635A999 999 0 0 1 946 876M598 635A999 999 0 0 1 988 696M598 635A999 999 0 0 1 1018 758M598 635A999 999 0 0 1 795 670"/>
<path class="er" d="M398 790A999 999 0 0 1 277 823M398 790A999 999 0 0 1 275 781M398 790A999 999 0 0 1 192 718M398 790A999 999 0 0 1 366 746M398 790A999 999 0 0 1 469 716M398 790A999 999 0 0 1 466 846M398 790A999 999 0 0 1 497 805M398 790A999 999 0 0 1 387 846M398 790A999 999 0 0 1 199 847M398 790A999 999 0 0 1 259 932M398 790A999 999 0 0 1 346 1050M398 790A999 999 0 0 1 451 1090M398 790A999 999 0 0 1 489 1038M398 790A999 999 0 0 1 383 622M398 790A999 999 0 0 1 332 455M398 790A999 999 0 0 1 488 668M398 790A999 999 0 0 1 469 566M398 790A999 999 0 0 1 272 728M398 790A999 999 0 0 1 246 676M398 790A999 999 0 0 1 455 997M398 790A999 999 0 0 1 543 855M398 790A999 999 0 0 1 600 871M398 790A999 999 0 0 1 350 932M398 790A999 999 0 0 1 548 996M398 790A999 999 0 0 1 652 800M398 790A999 999 0 0 1 595 765M398 790A999 999 0 0 1 431 669M398 790A999 999 0 0 1 525 514M398 790A999 999 0 0 1 556 590M398 790A999 999 0 0 1 226 588M398 790A999 999 0 0 1 168 628M398 790A999 999 0 0 1 507 955M398 790A999 999 0 0 1 717 762"/>
<path class="er" d="M469 716A999 999 0 0 1 332 455M469 716A999 999 0 0 1 192 718M469 716A999 999 0 0 1 275 781M469 716A999 999 0 0 1 277 823M469 716A999 999 0 0 1 366 746M469 716A999 999 0 0 1 383 622M469 716A999 999 0 0 1 431 669M469 716A999 999 0 0 1 540 663M469 716A999 999 0 0 1 488 668M469 716A999 999 0 0 1 469 566M469 716A999 999 0 0 1 525 514M469 716A999 999 0 0 1 226 588M469 716A999 999 0 0 1 168 628M469 716A999 999 0 0 1 272 728M469 716A999 999 0 0 1 246 676M469 716A999 999 0 0 1 497 805M469 716A999 999 0 0 1 466 846M469 716A999 999 0 0 1 199 847M469 716A999 999 0 0 1 259 932M469 716A999 999 0 0 1 346 1050M469 716A999 999 0 0 1 451 1090M469 716A999 999 0 0 1 398 449M469 716A999 999 0 0 1 427 481M469 716A999 999 0 0 1 288 546M469 716A999 999 0 0 1 434 534M469 716A999 999 0 0 1 380 535M469 716A999 999 0 0 1 338 578M469 716A999 999 0 0 1 556 590"/>
<path class="er" d="M199 847A999 999 0 0 1 259 932M199 847A999 999 0 0 1 346 1050M199 847A999 999 0 0 1 277 823M199 847A999 999 0 0 1 275 781M199 847A999 999 0 0 1 192 718M199 847A999 999 0 0 1 466 846M199 847A999 999 0 0 1 451 1090M199 847A999 999 0 0 1 350 932M199 847A999 999 0 0 1 548 996M199 847A300 300 0 0 1 188 583M259 932A999 999 0 0 1 346 1050M259 932A999 999 0 0 1 451 1090M259 932A999 999 0 0 1 350 932M259 932A999 999 0 0 1 455 997M259 932A999 999 0 0 1 489 1038M259 932A999 999 0 0 1 277 823M259 932A999 999 0 0 1 466 846M259 932A999 999 0 0 1 507 955M346 1050A999 999 0 0 1 451 1090M346 1050A999 999 0 0 1 489 1038M346 1050A999 999 0 0 1 455 997M346 1050A999 999 0 0 1 350 932M346 1050A999 999 0 0 1 548 996M346 1050A999 999 0 0 1 548 1148M346 1050A999 999 0 0 1 560 1060M192 718A999 999 0 0 1 275 781M192 718A999 999 0 0 1 277 823M192 718A999 999 0 0 1 246 676M192 718A999 999 0 0 1 272 728M192 718A999 999 0 0 1 168 628M192 718A999 999 0 0 1 226 588M192 718A999 999 0 0 1 188 583M192 718A999 999 0 0 1 383 622M192 718A999 999 0 0 1 366 746M277 823A999 999 0 0 1 275 781M277 823A999 999 0 0 1 466 846M277 823A999 999 0 0 1 387 846M277 823A999 999 0 0 1 366 746M277 823A999 999 0 0 1 497 805M497 805A999 999 0 0 1 466 846M497 805A999 999 0 0 1 543 855M497 805A999 999 0 0 1 595 765M497 805A999 999 0 0 1 600 871M497 805A999 999 0 0 1 366 746M497 805A999 999 0 0 1 387 846M497 805A999 999 0 0 1 451 1090M466 846A999 999 0 0 1 543 855M466 846A999 999 0 0 1 387 846M466 846A999 999 0 0 1 455 997M466 846A999 999 0 0 1 489 1038M466 846A999 999 0 0 1 451 1090M466 846A999 999 0 0 1 600 871M383 622A999 999 0 0 1 338 578M383 622A999 999 0 0 1 431 669M383 622A999 999 0 0 1 469 566M383 622A999 999 0 0 1 366 746M398 449A999 999 0 0 1 427 481M398 449A999 999 0 0 1 383 622M398 449A999 999 0 0 1 338 578M398 449A999 999 0 0 1 469 566"/>
<path class="er k" d="M259 932A300 300 0 0 0 548 996"/>
<path class="eo" d="M469 566A999 999 0 0 1 525 514M469 566A999 999 0 0 1 530 327M469 566A999 999 0 0 1 610 383M469 566A999 999 0 0 1 288 546M469 566A999 999 0 0 1 434 534M469 566A999 999 0 0 1 600 871M469 566A999 999 0 0 1 820 637M469 566A999 999 0 0 1 380 535M469 566A999 999 0 0 1 338 578M469 566A999 999 0 0 1 226 588M469 566A999 999 0 0 1 383 622M469 566A999 999 0 0 1 451 1090M469 566A999 999 0 0 1 721 1062M469 566A999 999 0 0 1 717 762M469 566A999 999 0 0 1 878 884M469 566A999 999 0 0 1 738 574M469 566A999 999 0 0 1 556 590M469 566A999 999 0 0 1 582 710M469 566A999 999 0 0 1 595 765M469 566A999 999 0 0 1 712 508M469 566A999 999 0 0 1 795 670M469 566A999 999 0 0 1 598 635M469 566A999 999 0 0 1 398 790M469 566A999 999 0 0 1 469 716M530 327A999 999 0 0 1 525 514M530 327A999 999 0 0 1 610 383M530 327A999 999 0 0 1 434 534M530 327A999 999 0 0 1 717 762M530 327A999 999 0 0 1 451 1090M530 327A999 999 0 0 1 712 508M288 546A999 999 0 0 1 434 534M288 546A999 999 0 0 1 380 535M288 546A999 999 0 0 1 525 514M288 546A999 999 0 0 1 383 622M434 534A999 999 0 0 1 525 514M434 534A999 999 0 0 1 610 383M525 514A999 999 0 0 1 610 383M525 514A999 999 0 0 1 820 637M600 871A999 999 0 0 1 451 1090M600 871A999 999 0 0 1 662 927M600 871A999 999 0 0 1 721 1062M820 637A999 999 0 0 1 903 606M820 637A999 999 0 0 1 878 884"/>
<path class="eo k" d="M451 1090A999 999 0 0 1 721 1062"/>
<path class="eu" d="M507 955A999 999 0 0 1 548 996M507 955A999 999 0 0 1 548 1148M507 955A999 999 0 0 1 560 1060M507 955A999 999 0 0 1 614 1097M507 955A999 999 0 0 1 721 1062M507 955A999 999 0 0 1 839 1138M507 955A999 999 0 0 1 627 1258M507 955A999 999 0 0 1 721 906M507 955A999 999 0 0 1 350 932M507 955A999 999 0 0 1 259 932M507 955A999 999 0 0 1 346 1050M507 955A999 999 0 0 1 451 1090M507 955A999 999 0 0 1 489 1038M507 955A999 999 0 0 1 455 997M507 955A999 999 0 0 1 652 800M507 955A999 999 0 0 1 666 627M507 955A999 999 0 0 1 246 293M507 955A999 999 0 0 1 398 790M507 955A999 999 0 0 1 277 823M507 955A999 999 0 0 1 199 847M507 955A999 999 0 0 1 466 846M507 955A999 999 0 0 1 497 805M507 955A999 999 0 0 1 717 762M507 955A999 999 0 0 1 878 884M507 955A999 999 0 0 1 850 943M507 955A999 999 0 0 1 1044 995M507 955A999 999 0 0 1 988 1063M507 955A999 999 0 0 1 897 992M507 955A999 999 0 0 1 662 927M507 955A999 999 0 0 1 488 668M507 955A999 999 0 0 1 801 1060M507 955A999 999 0 0 1 964 1133M507 955A999 999 0 0 1 332 455M507 955A999 999 0 0 1 469 716M507 955A999 999 0 0 1 192 718M507 955A999 999 0 0 1 275 781M507 955A999 999 0 0 1 946 876M507 955A999 999 0 0 1 543 855M507 955A999 999 0 0 1 600 871M507 955A999 999 0 0 1 712 508M507 955A999 999 0 0 1 795 670M507 955A999 999 0 0 1 1018 758M507 955A999 999 0 0 1 598 635"/>
<path class="eu" d="M548 996A999 999 0 0 1 548 1148M548 996A999 999 0 0 1 560 1060M548 996A999 999 0 0 1 614 1097M548 996A999 999 0 0 1 721 1062M548 996A999 999 0 0 1 839 1138M548 996A999 999 0 0 1 627 1258M548 996A999 999 0 0 1 721 906M548 996A999 999 0 0 1 350 932M548 996A999 999 0 0 1 652 800M548 996A999 999 0 0 1 666 627M548 996A999 999 0 0 1 259 932M548 996A999 999 0 0 1 346 1050M548 996A999 999 0 0 1 451 1090M548 996A999 999 0 0 1 878 884M548 996A999 999 0 0 1 850 943M548 996A999 999 0 0 1 1044 995M652 800A999 999 0 0 1 666 627M652 800A999 999 0 0 1 721 906M652 800A999 999 0 0 1 721 1062M652 800A999 999 0 0 1 839 1138M652 800A999 999 0 0 1 548 1148M652 800A999 999 0 0 1 560 1060M652 800A999 999 0 0 1 614 1097M652 800A999 999 0 0 1 350 932M652 800A999 999 0 0 1 878 884M652 800A999 999 0 0 1 850 943M652 800A999 999 0 0 1 795 670M652 800A999 999 0 0 1 712 508M652 800A999 999 0 0 1 598 635M652 800A999 999 0 0 1 398 790M652 800A999 999 0 0 1 469 716M652 800A999 999 0 0 1 717 762"/>
<path class="eu" d="M548 1148A999 999 0 0 1 627 1258M548 1148A999 999 0 0 1 839 1138M548 1148A999 999 0 0 1 560 1060M548 1148A999 999 0 0 1 614 1097M548 1148A999 999 0 0 1 721 1062M548 1148A999 999 0 0 1 451 1090M548 1148A999 999 0 0 1 346 1050M548 1148A999 999 0 0 1 489 1038M548 1148A999 999 0 0 1 964 1133M548 1148A999 999 0 0 1 850 943M548 1148A999 999 0 0 1 878 884M548 1148A999 999 0 0 1 350 932M548 1148A999 999 0 0 1 259 932M548 1148A999 999 0 0 1 721 906M548 1148A999 999 0 0 1 801 1060M548 1148A999 999 0 0 1 662 927M548 1148A400 400 0 0 0 839 1138M839 1138A999 999 0 0 1 721 1062M839 1138A999 999 0 0 1 614 1097M839 1138A999 999 0 0 1 560 1060M839 1138A999 999 0 0 1 627 1258M839 1138A999 999 0 0 1 878 884M839 1138A999 999 0 0 1 850 943M839 1138A999 999 0 0 1 964 1133M839 1138A999 999 0 0 1 988 1063M839 1138A999 999 0 0 1 1044 995M839 1138A999 999 0 0 1 897 992M839 1138A999 999 0 0 1 721 906M839 1138A999 999 0 0 1 801 1060M721 1062A999 999 0 0 1 614 1097M721 1062A999 999 0 0 1 560 1060M721 1062A999 999 0 0 1 721 906M721 1062A999 999 0 0 1 878 884M721 1062A999 999 0 0 1 850 943M721 1062A999 999 0 0 1 918 768M350 932A999 999 0 0 1 259 932M350 932A999 999 0 0 1 346 1050M350 932A999 999 0 0 1 451 1090M350 932A999 999 0 0 1 455 997M350 932A999 999 0 0 1 560 1060M350 932A999 999 0 0 1 548 1148M721 906A999 999 0 0 1 662 927M721 906A999 999 0 0 1 560 1060M721 906A999 999 0 0 1 878 884M721 906A999 999 0 0 1 850 943M721 906A999 999 0 0 1 918 768M918 768A999 999 0 0 1 652 800M918 768A999 999 0 0 1 878 884M246 293A999 999 0 0 1 721 1062M246 293A999 999 0 0 1 717 762M246 293A999 999 0 0 1 507 955M246 293A999 999 0 0 1 332 455M246 293A999 999 0 0 1 226 588M246 293A999 999 0 0 1 451 1090M246 293A999 999 0 0 1 839 1138M627 1258A999 999 0 0 1 614 1097M627 1258A999 999 0 0 1 721 1062M627 1258A600 600 0 0 0 839 1138"/>
<path class="eu k" d="M246 293A999 999 0 0 1 652 800"/>
<path class="ea" d="M946 876A999 999 0 0 1 988 696M946 876A999 999 0 0 1 878 884M946 876A999 999 0 0 1 1056 852M988 696A999 999 0 0 1 795 670M988 696A999 999 0 0 1 1273 701M582 710A999 999 0 0 1 598 635M582 710A999 999 0 0 1 666 714M582 710A999 999 0 0 1 717 762M662 927A999 999 0 0 1 721 906M662 927A999 999 0 0 1 600 871M722 845A999 999 0 0 1 717 762M722 845A999 999 0 0 1 878 884"/>
</g>
<g id="nodes">
<g id="n-p1"><circle class="pu" cx="652" cy="800" r="32"/></g>
<g id="n-b2"><circle class="bl" cx="790" cy="512" r="30"/></g>
<g id="n-br1"><circle class="br" cx="866" cy="735" r="28"/></g>
<g id="n-b1"><circle class="bl" cx="598" cy="480" r="25"/></g>
<g id="n-p2"><circle class="pu" cx="666" cy="627" r="23"/></g>
<g id="n-c5"><circle class="cy" cx="840" cy="380" r="22"/></g>
<g id="n-b4"><circle class="bl" cx="716" cy="637" r="22"/></g>
<g id="n-g3"><circle class="gn" cx="870" cy="505" r="18"/></g>
<g id="n-r6"><circle class="rd" cx="595" cy="765" r="18"/></g>
<g id="n-b3"><circle class="bl" cx="787" cy="557" r="17"/></g>
<g id="n-b9"><circle class="bl" cx="427" cy="481" r="17"/></g>
<g id="n-b5"><circle class="bl" cx="875" cy="679" r="15"/></g>
<g id="n-c4"><circle class="cy" cx="756" cy="399" r="15"/></g>
<g id="n-r9"><circle class="rd" cx="540" cy="663" r="15"/></g>
<g id="n-pu1"><circle class="pu" cx="918" cy="768" r="12"/></g>
<g id="n-y1"><circle class="ye" cx="1100" cy="775" r="12"/></g>
<g id="n-y2"><circle class="ye" cx="797" cy="790" r="12"/></g>
<g id="n-b7"><circle class="bl" cx="188" cy="583" r="12"/></g>
<g id="n-c1"><circle class="cy" cx="716" cy="193" r="12"/></g>
<g id="n-o5"><circle class="or" cx="610" cy="383" r="12"/></g>
<g id="n-sa2"><circle class="sa" cx="582" cy="710" r="12"/></g>
<g id="n-r11"><circle class="rd" cx="398" cy="449" r="12"/></g>
<g id="n-o3"><circle class="or" cx="434" cy="534" r="12"/></g>
<g id="n-p3"><circle class="pk" cx="475" cy="202" r="11"/></g>
<g id="n-sa1"><circle class="sa" cx="662" cy="927" r="11"/></g>
<g id="n-c2"><circle class="cy" cx="706" cy="318" r="10"/></g>
<g id="n-g1"><circle class="gn" cx="872" cy="150" r="10"/></g>
<g id="n-g2"><circle class="gn" cx="1045" cy="404" r="10"/></g>
<g id="n-c3"><circle class="cy" cx="1028" cy="533" r="10"/></g>
<g id="n-c6"><circle class="cy" cx="1236" cy="577" r="10"/></g>
<g id="n-y5"><circle class="ye" cx="1400" cy="1040" r="10"/></g>
<g id="n-y4"><circle class="ye" cx="801" cy="1060" r="10"/></g>
<g id="n-r2"><circle class="rd" cx="455" cy="997" r="10"/></g>
<g id="n-r-od"><circle class="rd" cx="259" cy="932" r="10"/></g>
<g id="n-o1"><circle class="or" cx="600" cy="871" r="10"/></g>
<g id="n-r3"><circle class="rd" cx="543" cy="855" r="10"/></g>
<g id="n-r4"><circle class="rd" cx="387" cy="846" r="10"/></g>
<g id="n-r5"><circle class="rd" cx="199" cy="847" r="10"/></g>
<g id="n-b6"><circle class="bl" cx="272" cy="728" r="10"/></g>
<g id="n-r8"><circle class="rd" cx="431" cy="669" r="10"/></g>
<g id="n-o2"><circle class="or" cx="288" cy="546" r="10"/></g>
<g id="n-o4"><circle class="or" cx="820" cy="637" r="10"/></g>
<g id="n-b10"><circle class="bl" cx="444" cy="383" r="9"/></g>
<g id="n-y3"><circle class="ye" cx="1056" cy="852" r="8"/></g>
<g id="n-y6"><circle class="ye" cx="1418" cy="1050" r="8"/></g>
<g id="n-human-error"><circle class="sa" cx="946" cy="876" r="14"/><text class="f1" x="1005" y="853" font-size="27">human error</text></g>
<g id="n-object-detection"><circle class="pu" cx="350" cy="932" r="19"/><text class="f4" x="320" y="932" font-size="27">object detection</text></g>
<g id="n-safety"><circle class="br" cx="795" cy="670" r="72"/><text x="795" y="672" font-size="56">safety</text></g>
<g id="n-construction"><circle class="pk" cx="712" cy="508" r="62"/><text x="708" y="510" font-size="51">construction</text></g>
<g id="n-risk-management"><circle class="ye" cx="1018" cy="758" r="47"/><text x="1018" y="759" font-size="45">risk management</text></g>
<g id="n-safety-management"><circle class="pk" cx="717" cy="762" r="38"/><text class="f2" x="705" y="763" font-size="39">safety management</text></g>
<g id="n-bim"><circle class="rd" cx="598" cy="635" r="35"/><text x="598" y="634" font-size="39">bim</text></g>
<g id="n-deep-learning"><circle class="pu" cx="507" cy="955" r="35"/><text x="506" y="955" font-size="40">deep learning</text></g>
<g id="n-built-environment"><circle class="gn" cx="952" cy="172" r="33"/><text x="953" y="172" font-size="39">built environment</text></g>
<g id="n-health-and-safety"><circle class="gn" cx="795" cy="343" r="33"/><text x="796" y="343" font-size="38">health and safety</text></g>
<g id="n-sustainability"><circle class="gn" cx="973" cy="478" r="26"/><text x="973" y="476" font-size="34">sustainability</text></g>
<g id="n-reliability"><circle class="ye" cx="1172" cy="938" r="25"/><text x="1172" y="938" font-size="33">reliability</text></g>
<g id="n-computer-vision"><circle class="pu" cx="548" cy="996" r="22"/><text class="f3" x="546" y="997" font-size="33">computer vision</text></g>
<g id="n-vr"><circle class="or" cx="469" cy="566" r="22"/><text x="469" y="567" font-size="35">vr</text></g>
<g id="n-iot"><circle class="rd" cx="398" cy="790" r="21"/><text x="398" y="790" font-size="33">iot</text></g>
<g id="n-construction-management"><circle class="gn" cx="678" cy="440" r="20"/><text class="f1" x="678" y="442" font-size="33">construction management</text></g>
<g id="n-management"><circle class="pk" cx="637" cy="172" r="20"/><text x="637" y="173" font-size="31">management</text></g>
<g id="n-ai"><circle class="bl" cx="488" cy="668" r="20"/><text x="488" y="669" font-size="32">ai</text></g>
<g id="n-robot"><circle class="bl" cx="332" cy="455" r="20"/><text x="332" y="455" font-size="32">robot</text></g>
<g id="n-covid-19"><circle class="gn" cx="970" cy="248" r="20"/><text x="970" y="247" font-size="31">covid-19</text></g>
<g id="n-environment"><circle class="gn" cx="1137" cy="298" r="18"/><text x="1138" y="298" font-size="32">environment</text></g>
<g id="n-hazards"><circle class="br" cx="878" cy="884" r="17"/><text x="878" y="883" font-size="31">hazards</text></g>
<g id="n-ergonomics"><circle class="cy" cx="903" cy="606" r="17"/><text x="903" y="607" font-size="30">ergonomics</text></g>
<g id="n-automation"><circle class="rd" cx="469" cy="716" r="17"/><text x="469" y="714" font-size="29">automation</text></g>
<g id="n-3d"><circle class="rd" cx="497" cy="805" r="16"/><text x="498" y="805" font-size="30">3d</text></g>
<g id="n-cnn"><circle class="pu" cx="548" cy="1148" r="16"/><text x="548" y="1151" font-size="30">cnn</text></g>
<g id="n-simulation"><circle class="cy" cx="738" cy="574" r="15"/><text x="738" y="574" font-size="30">simulation</text></g>
<g id="n-wearable-devices"><circle class="pu" cx="721" cy="906" r="15"/><text class="f2" x="721" y="906" font-size="28">wearable devices</text></g>
<g id="n-ppe"><circle class="pu" cx="560" cy="1060" r="15"/><text x="561" y="1060" font-size="30">ppe</text></g>
<g id="n-falls"><circle class="pu" cx="839" cy="1138" r="14"/><text x="840" y="1138" font-size="28">falls</text></g>
<g id="n-uav"><circle class="rd" cx="277" cy="823" r="14"/><text x="277" y="825" font-size="28">uav</text></g>
<g id="n-masonry"><circle class="cy" cx="1196" cy="580" r="13"/><text x="1196" y="581" font-size="27">masonry</text></g>
<g id="n-neural-networks"><circle class="ye" cx="856" cy="806" r="13"/><text class="f1" x="858" y="806" font-size="29">neural networks</text></g>
<g id="n-ar"><circle class="or" cx="525" cy="514" r="13"/><text x="525" y="514" font-size="27">ar</text></g>
<g id="n-modular-construction"><circle class="bl" cx="380" cy="535" r="13"/><text class="f4" x="378" y="535" font-size="28">modular construction</text></g>
<g id="n-construction-monitoring"><circle class="rd" cx="466" cy="846" r="12"/><text x="469" y="846" font-size="28">construction monitoring</text></g>
<g id="n-knowledge-graphs"><circle class="br" cx="1044" cy="995" r="12"/><text x="1041" y="995" font-size="27">knowledge graphs</text></g>
<g id="n-ontology"><circle class="br" cx="988" cy="1063" r="12"/><text x="988" y="1064" font-size="28">ontology</text></g>
<g id="n-safety-factor"><circle class="ye" cx="1230" cy="874" r="12"/><text x="1230" y="874" font-size="28">safety factor</text></g>
<g id="n-accidents"><circle class="rd" cx="451" cy="1090" r="12"/><text x="451" y="1090" font-size="28">accidents</text></g>
<g id="n-unsafe-behavior"><circle class="pu" cx="721" cy="1062" r="12"/><text x="718" y="1065" font-size="28">unsafe behavior</text></g>
<g id="n-transfer-learning"><circle class="pu" cx="614" cy="1097" r="12"/><text class="f3" x="617" y="1097" font-size="27">transfer learning</text></g>
<g id="n-fuzzy-logic"><circle class="rd" cx="556" cy="590" r="12"/><text class="f2" x="560" y="591" font-size="28">fuzzy logic</text></g>
<g id="n-blockchain"><circle class="rd" cx="192" cy="718" r="12"/><text x="192" y="718" font-size="29">blockchain</text></g>
<g id="n-stress"><circle class="cy" cx="895" cy="276" r="12"/><text class="f4" x="905" y="277" font-size="27">stress</text></g>
<g id="n-physical-activity"><circle class="gn" cx="1012" cy="82" r="12"/><text class="f4" x="1019" y="82" font-size="27">physical activity</text></g>
<g id="n-bibliometric-analysis"><circle class="gn" cx="955" cy="545" r="12"/><text class="f2" x="954" y="545" font-size="28">bibliometric analysis</text></g>
<g id="n-developing-countries"><circle class="pk" cx="697" cy="87" r="12"/><text x="696" y="86" font-size="27">developing countries</text></g>
<g id="n-safety-training"><circle class="or" cx="530" cy="327" r="11"/><text x="531" y="326" font-size="29">safety training</text></g>
<g id="n-safety-behavior"><circle class="pu" cx="246" cy="293" r="11"/><text class="f4" x="245" y="293" font-size="27">safety behavior</text></g>
<g id="n-walkability"><circle class="gn" cx="888" cy="86" r="11"/><text class="f2" x="890" y="86" font-size="27">walkability</text></g>
<g id="n-well-being"><circle class="gn" cx="937" cy="118" r="11"/><text class="f2" x="936" y="118" font-size="27">well-being</text></g>
<g id="n-data-mining"><circle class="rd" cx="489" cy="1038" r="11"/><text class="f4" x="480" y="1037" font-size="27">data mining</text></g>
<g id="n-text-mining"><circle class="br" cx="897" cy="992" r="11"/><text class="f4" x="880" y="992" font-size="27">text mining</text></g>
<g id="n-lean-construction"><circle class="gn" cx="676" cy="245" r="10"/><text x="676" y="245" font-size="28">lean construction</text></g>
<g id="n-gis"><circle class="gn" cx="835" cy="265" r="10"/><text x="835" y="265" font-size="28">gis</text></g>
<g id="n-workers"><circle class="cy" cx="785" cy="156" r="10"/><text class="f4" x="784" y="156" font-size="26">workers</text></g>
<g id="n-occupational-health"><circle class="gn" cx="1110" cy="352" r="10"/><text x="1110" y="353" font-size="27">occupational health</text></g>
<g id="n-climate-change"><circle class="gn" cx="1142" cy="410" r="10"/><text x="1143" y="411" font-size="27">climate change</text></g>
<g id="n-review"><circle class="gn" cx="901" cy="428" r="10"/><text class="f1" x="901" y="425" font-size="27">review</text></g>
<g id="n-vulnerability"><circle class="gn" cx="1100" cy="577" r="10"/><text class="f4" x="1100" y="577" font-size="27">vulnerability</text></g>
<g id="n-human-factors"><circle class="sa" cx="988" cy="696" r="10"/><text x="987" y="696" font-size="28">human factors</text></g>
<g id="n-temporary-structures"><circle class="ye" cx="850" cy="943" r="10"/><text x="848" y="943" font-size="27">temporary structures</text></g>
<g id="n-progressive-collapse"><circle class="ye" cx="1309" cy="1022" r="10"/><text x="1311" y="1043" font-size="27">progressive collapse</text></g>
<g id="n-smart-cities"><circle class="rd" cx="366" cy="746" r="10"/><text class="f3" x="366" y="746" font-size="27">smart cities</text></g>
<g id="n-excavation"><circle class="rd" cx="383" cy="622" r="10"/><text x="384" y="622" font-size="28">excavation</text></g>
<g id="n-collision"><circle class="bl" cx="226" cy="588" r="10"/><text x="225" y="588" font-size="27">collision</text></g>
<g id="n-confined-spaces"><circle class="rd" cx="338" cy="578" r="10"/><text class="f4" x="355" y="578" font-size="27">confined spaces</text></g>
<g id="n-industry-4-0"><circle class="pk" cx="360" cy="270" r="10"/><text x="362" y="265" font-size="28">industry 4.0</text></g>
<g id="n-decision-making"><circle class="bl" cx="566" cy="385" r="10"/><text class="f1" x="566" y="385" font-size="28">decision-making</text></g>
<g id="n-prefabricated-buildings"><circle class="sa" cx="722" cy="845" r="9"/><text class="f2" x="723" y="842" font-size="27">prefabricated buildings</text></g>
<g id="n-walking"><circle class="gn" cx="956" cy="25" r="9"/><text x="956" y="25" font-size="26">walking</text></g>
<g id="n-random-forest"><circle class="pu" cx="627" cy="1258" r="9"/><text x="628" y="1258" font-size="27">random forest</text></g>
<g id="n-reinforcement-learning"><circle class="bl" cx="168" cy="628" r="9"/><text x="168" y="628" font-size="27">reinforcement learning</text></g>
<g id="n-drones"><circle class="rd" cx="275" cy="781" r="9"/><text x="276" y="781" font-size="28">drones</text></g>
<g id="n-rehabilitation"><circle class="ye" cx="1109" cy="812" r="8"/><text x="1109" y="810" font-size="27">rehabilitation</text></g>
<g id="n-barrier"><circle class="pk" cx="408" cy="201" r="8"/><text x="408" y="200" font-size="27">barrier</text></g>
<g id="n-safety-inspection"><circle class="rd" cx="346" cy="1050" r="8"/><text x="346" y="1049" font-size="27">safety inspection</text></g>
<g id="n-occupational-accidents"><circle class="bl" cx="964" cy="1133" r="8"/><text class="f4" x="973" y="1131" font-size="27">occupational accidents</text></g>
<g id="n-injuries"><circle class="br" cx="1273" cy="701" r="8"/><text class="f3" x="1275" y="701" font-size="27">injuries</text></g>
<g id="n-modeling"><circle class="rd" cx="666" cy="714" r="8"/><text class="f4" x="720" y="712" font-size="27">modeling</text></g>
<g id="n-path-planning"><circle class="bl" cx="246" cy="676" r="7"/><text x="243" y="673" font-size="27">path planning</text></g>
<g id="n-gender"><circle class="br" cx="1390" cy="593" r="7"/><text x="1389" y="593" font-size="26">gender</text></g>
<g id="n-environmental-safety"><circle class="ye" cx="1416" cy="670" r="7"/><text x="1418" y="670" font-size="27">environmental safety</text></g>
</g>
</g>
</svg>
